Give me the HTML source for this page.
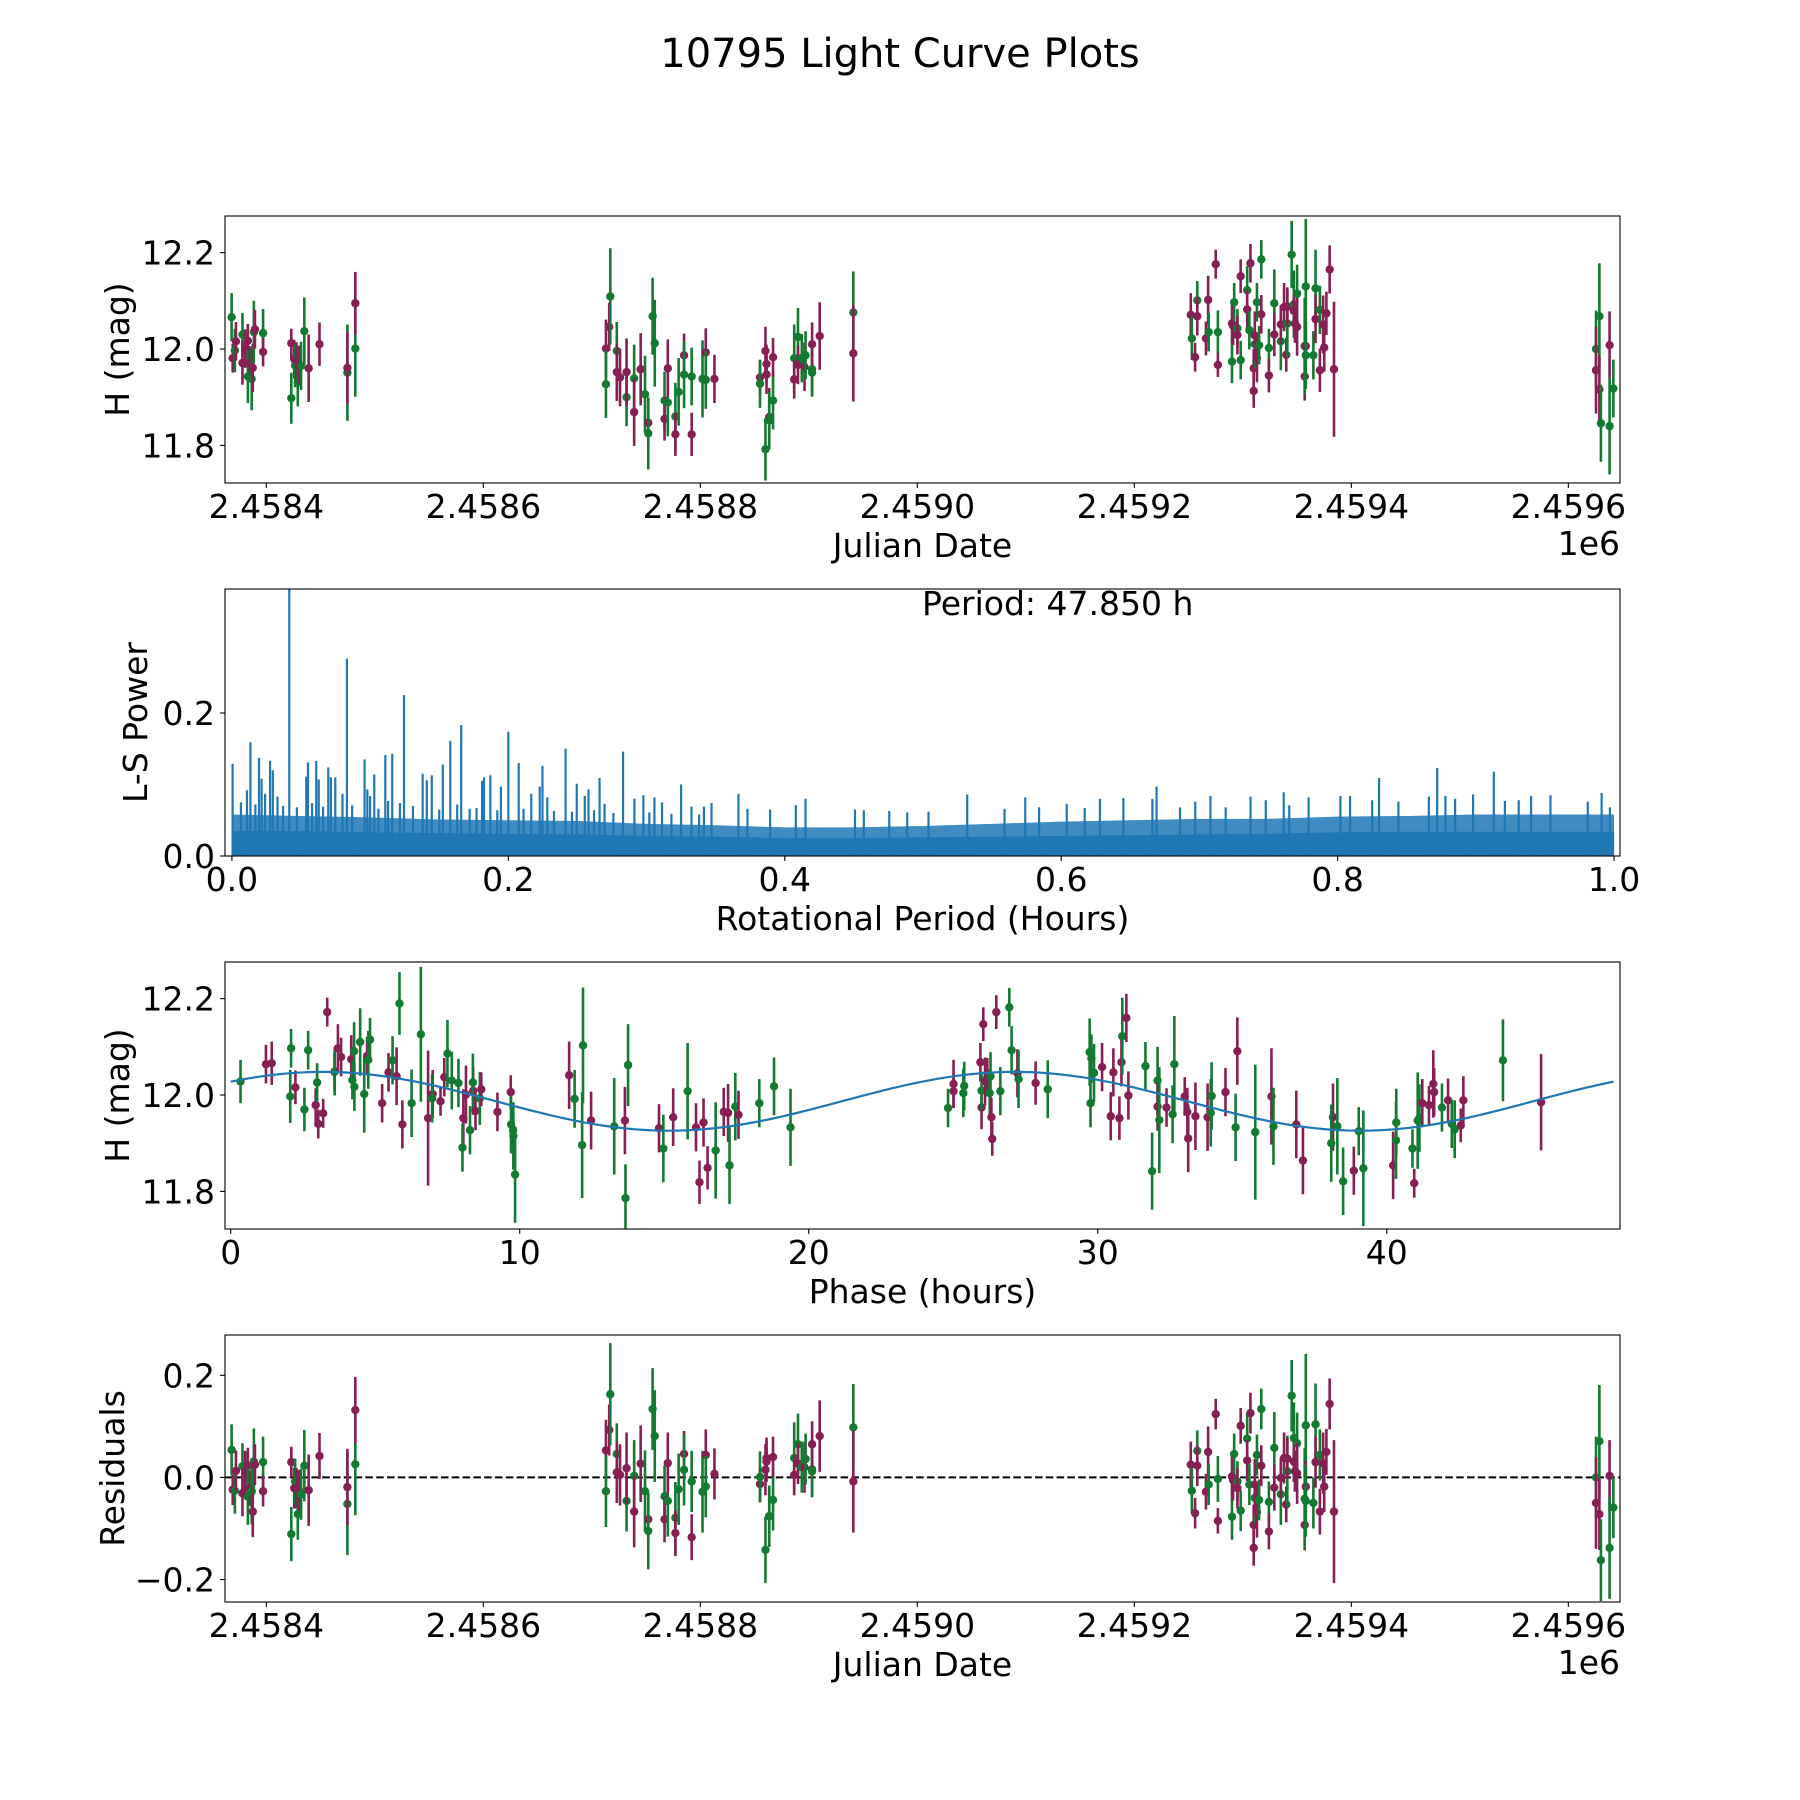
<!DOCTYPE html>
<html>
<head>
<meta charset="utf-8">
<style>
html,body{margin:0;padding:0;background:#fff;}
svg{display:block;font-family:"DejaVu Sans","Liberation Sans",sans-serif;}
</style>
</head>
<body>
<svg id="fig" width="1800" height="1800" viewBox="0 0 1800 1800" xmlns="http://www.w3.org/2000/svg">
<rect x="0" y="0" width="1800" height="1800" fill="#fff"/>
<text x="900" y="67" font-size="40" text-anchor="middle" fill="#000">10795 Light Curve Plots</text>
<defs>
<clipPath id="clip1"><rect x="225" y="216" width="1395" height="267"/></clipPath>
<clipPath id="clip2"><rect x="225" y="589" width="1395" height="267"/></clipPath>
<clipPath id="clip3"><rect x="225" y="962" width="1395" height="267"/></clipPath>
<clipPath id="clip4"><rect x="225" y="1335" width="1395" height="267"/></clipPath>
</defs>
</svg>
<script>
// ---- observation data (Julian Date, magnitude, error, band, residual) ----
const obsJD = [2458368,2458369,2458371,2458372,2458378,2458378,2458380.5,2458383,2458383,2458385,2458386.5,2458387.5,2458388.5,2458389.5,2458397,2458397,
2458423,2458423,2458425.7,2458426.5,2458427.7,2458429,2458430,2458432,2458435,2458439,2458449,
2458474.7,2458474.7,2458482,2458482,
2458713,2458713,2458716,2458717,2458723,2458723,2458726,2458732,2458732,2458739,2458739,2458745,2458749,2458752,2458752,2458756,2458758,2458767,2458767,2458770,2458770,2458777,2458777,2458780,2458785,2458785,2458792,2458792,2458802,2458805,2458805,2458813,
2458855,2458855,2458860,2458860,2458861,2458861,2458863.5,2458863.5,2458867,2458867,2458886.5,2458886.5,2458890,2458890,2458893.5,2458896,2458897,2458903,2458903,2458903,2458910,2458941,2458941,
2459252,2459253,2459256,2459258,2459258,2459266,2459268,2459268.5,2459275,2459277,2459277,2459290,2459290,2459291,2459292,2459295,2459295,2459298,2459298,2459304,2459304,2459306,2459307,2459310,2459310,2459311,2459311,2459313,2459313,2459315,2459317,2459317,2459324,2459324,2459329,2459329,2459335,2459335,2459338,2459340,2459341,2459341,2459345,2459347,2459347,2459348,2459350,2459350,2459357,2459357,2459358,2459358,2459358,2459365,2459367,2459367,2459371,2459371,2459374,2459375,2459377,2459380,2459384,
2459625.5,2459625.5,2459628.6,2459628.6,2459630,2459638,2459638,2459641.5];
const obsMag = [12.066,11.981,11.997,12.016,12.030,11.971,12.001,12.017,11.943,11.971,11.938,11.961,12.035,12.041,12.033,11.994,
12.012,11.898,11.979,11.966,11.974,11.931,11.967,11.965,12.037,11.960,12.010,
11.951,11.961,12.001,12.095,
12.001,11.927,12.046,12.109,11.996,11.952,11.941,11.900,11.952,11.939,11.869,11.958,11.906,11.847,11.825,12.068,12.012,11.893,11.855,11.889,11.960,11.860,11.823,11.911,11.987,11.947,11.943,11.823,11.938,11.993,11.936,11.938,
11.941,11.928,11.996,11.792,11.969,11.947,11.859,11.852,11.893,11.983,11.981,11.937,12.025,11.967,11.981,11.963,11.987,11.958,11.951,12.010,12.027,12.076,11.991,
12.071,12.022,11.983,12.101,12.068,12.022,12.102,12.035,12.176,12.035,11.967,11.974,12.053,12.048,12.097,12.043,12.029,11.977,12.151,12.122,12.082,12.039,12.178,11.913,11.960,12.010,12.028,12.097,11.981,12.008,12.072,12.186,12.002,11.945,12.095,12.030,12.016,12.051,12.087,11.988,12.053,12.088,12.196,12.093,12.079,12.053,12.115,12.046,11.943,12.006,12.130,12.006,11.987,11.987,12.126,12.062,12.081,11.956,12.051,12.003,12.074,12.165,11.958,
12.000,11.956,12.068,11.916,11.846,12.008,11.840,11.918];
const obsErr = [0.05,0.03,0.045,0.04,0.045,0.045,0.04,0.035,0.055,0.035,0.065,0.05,0.065,0.04,0.05,0.03,
0.03,0.053,0.04,0.045,0.04,0.05,0.04,0.05,0.07,0.07,0.045,
0.1,0.075,0.1,0.065,
0.06,0.07,0.05,0.1,0.06,0.06,0.06,0.06,0.07,0.07,0.07,0.075,0.08,0.045,0.075,0.08,0.09,0.06,0.045,0.07,0.06,0.07,0.045,0.07,0.045,0.07,0.06,0.045,0.08,0.05,0.06,0.05,
0.035,0.05,0.05,0.065,0.04,0.04,0.06,0.06,0.06,0.04,0.07,0.04,0.06,0.04,0.05,0.05,0.05,0.055,0.05,0.045,0.07,0.085,0.1,
0.045,0.045,0.03,0.04,0.04,0.035,0.05,0.04,0.03,0.045,0.025,0.045,0.04,0.04,0.04,0.04,0.04,0.04,0.035,0.05,0.04,0.04,0.04,0.035,0.04,0.05,0.05,0.04,0.05,0.04,0.04,0.04,0.04,0.035,0.07,0.045,0.06,0.04,0.05,0.035,0.07,0.04,0.07,0.07,0.04,0.04,0.06,0.06,0.05,0.1,0.14,0.05,0.07,0.05,0.08,0.05,0.05,0.045,0.06,0.05,0.045,0.05,0.14,
0.08,0.09,0.11,0.07,0.08,0.07,0.1,0.06];
const obsBand = ["g","r","g","r","g","r","r","r","g","r","g","r","g","r","g","r",
"r","g","r","g","r","g","r","g","g","r","r",
"g","r","g","r",
"r","g","r","g","g","r","r","g","r","g","r","r","g","r","g","g","g","g","r","g","r","g","r","g","r","g","g","r","g","r","g","r",
"r","g","r","g","r","r","r","g","g","r","g","r","g","r","g","r","g","g","g","r","r","g","r",
"r","g","r","g","r","r","r","g","r","g","r","g","r","r","g","g","r","g","r","g","r","g","r","r","r","g","r","g","r","g","r","g","g","r","g","r","g","r","r","r","g","r","g","g","r","r","g","r","r","g","g","r","g","g","g","r","g","r","r","r","r","r","r",
"g","r","g","r","g","r","g","g"];
const obsResid = [0.054,-0.024,-0.026,0.013,0.022,-0.031,0.012,0.023,-0.038,-0.021,-0.027,-0.067,0.031,0.025,0.030,-0.027,
0.030,-0.111,-0.021,-0.008,-0.021,-0.072,-0.025,-0.033,0.023,-0.025,0.042,
-0.052,-0.019,0.026,0.132,
0.053,-0.027,0.093,0.163,0.046,0.010,0.005,-0.046,0.018,0.003,-0.067,0.027,-0.027,-0.082,-0.105,0.134,0.081,-0.037,-0.082,-0.046,0.028,-0.079,-0.109,-0.023,0.046,0.015,-0.008,-0.117,-0.028,0.044,-0.018,0.007,
-0.013,0.001,0.015,-0.142,0.038,0.031,-0.076,-0.076,-0.044,0.040,0.038,0.005,0.065,0.027,0.020,0.020,0.036,0.016,0.012,0.065,0.081,0.098,-0.008,
0.025,-0.026,-0.070,0.052,0.023,-0.028,0.050,-0.014,0.124,-0.003,-0.085,-0.077,0.002,-0.005,0.046,-0.008,-0.021,-0.065,0.101,0.076,0.033,-0.014,0.126,-0.138,-0.093,-0.040,-0.014,0.044,-0.068,-0.044,0.023,0.134,-0.048,-0.106,0.058,-0.020,-0.033,-0.001,0.038,-0.053,0.012,0.037,0.160,0.077,0.031,0.012,0.067,0.008,-0.093,-0.042,0.102,-0.018,-0.046,-0.050,0.104,0.030,0.044,-0.067,0.028,-0.018,0.050,0.144,-0.067,
0.000,-0.050,0.071,-0.072,-0.162,0.003,-0.138,-0.059];

// ---- phased data ----
const phPhase = [0.34,1.22,1.42,2.09,2.06,2.24,2.55,2.68,2.94,2.99,3.03,3.20,3.34,3.59,3.60,3.71,3.82,4.17,4.21,4.27,4.28,4.48,4.62,4.72,4.76,4.82,5.24,5.46,5.60,5.74,5.84,5.94,6.26,6.58,6.83,6.99,6.97,7.26,7.39,7.50,7.65,7.88,8.05,8.02,8.14,8.28,8.39,8.38,8.47,8.62,8.67,9.23,9.69,9.70,9.77,9.78,9.84,11.71,11.90,12.19,12.16,12.47,13.27,13.64,13.66,13.75,14.82,14.97,15.31,15.81,16.10,16.22,16.36,16.50,16.78,17.06,17.21,17.26,17.46,17.57,18.29,18.80,19.37,
24.82,25.01,25.01,25.35,25.38,25.94,25.98,25.98,26.04,26.10,26.18,26.26,26.29,26.32,26.35,26.49,26.63,26.94,27.02,27.22,27.26,27.85,28.27,29.72,29.75,29.78,29.87,30.15,30.45,30.54,30.75,30.82,30.85,30.99,31.06,31.65,31.88,32.07,32.07,32.13,32.38,32.59,32.65,33.01,33.10,33.13,33.38,33.80,33.91,33.94,34.42,34.83,34.77,35.45,36.01,36.08,36.87,37.10,38.14,38.08,38.29,38.49,38.86,39.03,39.19,40.22,40.32,40.33,40.89,40.95,41.07,41.13,41.23,41.46,41.61,41.64,41.91,42.12,42.25,42.35,42.56,42.65,44.02,45.34];
const phMag = [12.028,12.064,12.066,12.097,11.997,12.016,11.970,12.093,11.979,12.026,11.940,11.962,12.172,12.048,12.049,12.097,12.079,12.074,12.031,12.091,12.017,12.110,12.002,12.081,12.073,12.115,11.983,12.047,12.072,12.039,12.190,11.939,11.983,12.126,11.952,12.002,11.993,11.987,12.037,12.086,12.030,12.025,11.952,11.891,12.001,11.927,12.009,12.026,11.967,11.993,12.012,11.965,12.006,11.939,11.927,11.915,11.835,12.041,11.992,12.103,11.896,11.947,11.935,11.947,11.786,12.062,11.931,11.889,11.954,12.008,11.933,11.819,11.943,11.849,11.885,11.965,11.963,11.854,11.976,11.959,11.983,12.018,11.933,
11.973,12.023,12.008,12.004,12.019,12.068,11.974,12.009,12.147,12.028,12.037,12.004,12.039,11.954,11.909,12.172,12.008,12.182,12.093,12.045,12.033,12.025,12.012,12.089,11.983,12.076,12.046,12.058,11.956,12.047,11.952,12.068,12.122,12.160,11.999,12.060,11.842,12.030,11.976,11.948,11.974,11.960,12.064,11.997,11.965,11.910,11.956,11.954,11.963,11.998,12.006,12.091,11.933,11.923,11.997,11.935,11.939,11.864,11.954,11.900,11.935,11.821,11.843,11.925,11.848,11.854,11.906,11.943,11.889,11.817,11.947,11.952,11.983,11.979,12.023,12.006,11.974,11.989,11.940,11.929,11.937,11.989,12.072,11.985];
const phErr = [0.045,0.04,0.045,0.04,0.055,0.035,0.045,0.04,0.035,0.04,0.03,0.03,0.03,0.04,0.05,0.05,0.04,0.05,0.04,0.06,0.05,0.07,0.08,0.04,0.06,0.045,0.04,0.04,0.05,0.06,0.065,0.05,0.07,0.14,0.14,0.05,0.05,0.03,0.04,0.07,0.06,0.05,0.06,0.05,0.06,0.05,0.05,0.06,0.04,0.055,0.035,0.04,0.035,0.06,0.05,0.07,0.1,0.07,0.06,0.12,0.11,0.06,0.1,0.07,0.07,0.085,0.05,0.07,0.06,0.1,0.05,0.045,0.05,0.045,0.1,0.05,0.06,0.08,0.07,0.05,0.05,0.06,0.08,
0.04,0.05,0.035,0.05,0.05,0.04,0.045,0.04,0.035,0.05,0.04,0.05,0.05,0.04,0.035,0.035,0.05,0.04,0.05,0.05,0.06,0.045,0.06,0.07,0.05,0.05,0.06,0.05,0.05,0.05,0.045,0.05,0.08,0.05,0.05,0.05,0.08,0.07,0.05,0.11,0.04,0.06,0.1,0.04,0.05,0.07,0.07,0.07,0.07,0.07,0.05,0.07,0.07,0.14,0.1,0.08,0.07,0.07,0.07,0.08,0.1,0.07,0.05,0.05,0.12,0.07,0.08,0.07,0.04,0.03,0.1,0.07,0.05,0.04,0.07,0.05,0.05,0.045,0.05,0.06,0.035,0.05,0.085,0.1];
const phBand = ["g","r","r","g","g","r","g","g","r","g","r","r","r","r","g","r","r","r","g","g","g","g","g","r","g","g","r","r","g","r","g","r","g","g","r","r","g","r","r","g","g","g","r","g","r","g","r","g","r","g","r","r","r","g","g","g","g","r","g","g","g","r","g","r","g","g","r","g","r","g","r","r","r","r","g","r","r","g","g","r","g","g","g",
"g","r","r","g","g","r","r","g","r","r","r","g","g","r","r","r","g","g","g","r","g","r","g","g","g","g","g","r","r","r","r","r","g","r","r","g","g","g","r","g","r","g","g","r","r","r","r","r","g","g","r","r","g","g","r","g","r","r","r","g","g","g","r","g","g","r","g","g","g","r","g","g","r","r","r","r","g","r","g","g","r","r","g","r"];
// fitted model: [mean mag, amplitude, phase of maximum (h), period of sinusoid (h)]
const modelParams = [11.987, 0.061, 3.2, 23.925];
const phaseRange = [0, 47.85];

// ---- periodogram data ----
const envPos  = [0,0.05,0.10,0.15,0.20,0.25,0.30,0.35,0.40,0.45,0.50,0.55,0.60,0.65,0.70,0.75,0.80,0.85,0.90,0.95,1.00];
const envTop  = [0.058,0.056,0.054,0.051,0.050,0.049,0.045,0.043,0.040,0.040,0.042,0.045,0.048,0.050,0.052,0.052,0.055,0.056,0.058,0.058,0.058];
const envBase = [0.035,0.035,0.033,0.032,0.031,0.030,0.028,0.027,0.025,0.025,0.026,0.027,0.028,0.029,0.030,0.031,0.033,0.034,0.034,0.034,0.034];
const peakPos = [0.0005,0.0109,0.0134,0.0196,0.0215,0.024,0.0276,0.0296,0.033,0.0415,0.0538,0.055,0.061,0.0628,0.0697,0.0716,0.0748,0.080,0.0832,0.096,0.098,0.100,0.103,0.111,0.113,0.116,0.1216,0.1245,0.138,0.141,0.1446,0.1526,0.158,0.163,0.1659,0.172,0.181,0.1824,0.187,0.1946,0.200,0.2075,0.2166,0.2227,0.2247,0.2282,0.2414,0.2495,0.2553,0.258,0.266,0.2696,0.283,0.2912,0.2977,0.3057,0.3112,0.325,0.3325,0.3415,0.347,0.3665,0.373,0.3894,0.408,0.415,0.4508,0.4572,0.4756,0.4886,
0.504,0.532,0.559,0.574,0.584,0.604,0.617,0.628,0.645,0.666,0.669,0.686,0.697,0.708,0.719,0.737,0.748,0.761,0.765,0.779,0.802,0.809,0.825,0.830,0.844,0.866,0.872,0.878,0.885,0.898,0.913,0.921,0.931,0.940,0.954,0.981,0.991,0.997,
0.0065,0.017,0.037,0.047,0.058,0.066,0.087,0.106,0.131,0.150,0.177,0.192,0.211,0.233,0.246,0.262,0.276,0.302,0.318,0.338];
const peakPow = [0.129,0.092,0.159,0.137,0.108,0.087,0.133,0.120,0.083,0.400,0.111,0.131,0.133,0.107,0.124,0.110,0.110,0.087,0.276,0.135,0.093,0.084,0.114,0.141,0.077,0.143,0.074,0.225,0.115,0.106,0.113,0.128,0.161,0.072,0.183,0.066,0.105,0.110,0.113,0.097,0.174,0.130,0.087,0.097,0.126,0.082,0.150,0.101,0.084,0.093,0.109,0.073,0.146,0.080,0.085,0.082,0.075,0.100,0.069,0.069,0.074,0.087,0.066,0.065,0.071,0.080,0.065,0.064,0.063,0.061,
0.062,0.086,0.066,0.082,0.068,0.073,0.067,0.080,0.081,0.080,0.097,0.068,0.076,0.084,0.068,0.083,0.078,0.089,0.071,0.082,0.084,0.084,0.078,0.109,0.076,0.083,0.123,0.084,0.080,0.086,0.118,0.077,0.078,0.084,0.085,0.076,0.088,0.068,
0.075,0.072,0.070,0.068,0.074,0.069,0.071,0.066,0.070,0.065,0.067,0.064,0.066,0.063,0.062,0.064,0.060,0.061,0.059,0.058];
const bestPeriod = 47.850;

// ---- tick labels ----
const jdTicks = [2458400,2458600,2458800,2459000,2459200,2459400,2459600];
const jdTickLabels = ["2.4584","2.4586","2.4588","2.4590","2.4592","2.4594","2.4596"];
const magTicks = [12.2,12.0,11.8];
const magTickLabels = ["12.2","12.0","11.8"];
const powTicks = [0.0,0.2];
const powTickLabels = ["0.0","0.2"];
const perTicks = [0,0.2,0.4,0.6,0.8,1.0];
const perTickLabels = ["0.0","0.2","0.4","0.6","0.8","1.0"];
const phTicks = [0,10,20,30,40];
const phTickLabels = ["0","10","20","30","40"];
const resTicks = [0.2,0.0,-0.2];
const resTickLabels = ["0.2","0.0","\u22120.2"];

// ---- layout ----
const NS = "http://www.w3.org/2000/svg";
const svg = document.getElementById("fig");
const L = 225, R = 1620, W = R - L, H = 267;
const tops = [216, 589, 962, 1335];
const GREEN = "#137a32", MAROON = "#871f55", BLUE = "#1f77b4";
const FS = 33;

function mk(tag, attrs, parent) {
  const e = document.createElementNS(NS, tag);
  for (const k in attrs) e.setAttribute(k, attrs[k]);
  (parent || svg).appendChild(e);
  return e;
}
function linScale(d0, d1, r0, r1) { return v => r0 + (v - d0) / (d1 - d0) * (r1 - r0); }

const xJD = linScale(2458361.9, 2459647.6, L, R);
const yMag1 = linScale(12.276, 11.722, tops[0], tops[0] + H);
const xPer = linScale(-0.005, 1.0043, L, R);
const yPow = linScale(0, 0.3734, tops[1] + H, tops[1]);
const xPh = linScale(-0.197, 48.07, L, R);
const yMag3 = linScale(12.276, 11.722, tops[2], tops[2] + H);
const yRes = linScale(0.279, -0.244, tops[3], tops[3] + H);

function drawAxes(name, top, xs, xt, xl, ys, yt, yl, xlabel, ylabel, ylabelX, offsetText) {
  const g = mk("g", {});
  
  
  const fr = mk("rect", {x: L, y: top, width: W, height: H, fill: "none", stroke: "#000", "stroke-width": 1.1}, g);
  
  
  const bot = top + H;
  xt.forEach((v, i) => {
    const x = xs(v);
    const t = mk("line", {x1: x, x2: x, y1: bot, y2: bot + 4.9, stroke: "#000", "stroke-width": 1.1}, g);
    
    
    const tl = mk("text", {x: x, y: bot + 35, "font-size": FS, "text-anchor": "middle"}, g);
    
    
    tl.textContent = xl[i];
  });
  yt.forEach((v, i) => {
    const y = ys(v);
    const t = mk("line", {x1: L - 4.9, x2: L, y1: y, y2: y, stroke: "#000", "stroke-width": 1.1}, g);
    
    
    const tl = mk("text", {x: L - 10, y: y + 12, "font-size": FS, "text-anchor": "end"}, g);
    
    
    tl.textContent = yl[i];
  });
  const xa = mk("text", {x: (L + R) / 2, y: bot + 74, "font-size": FS, "text-anchor": "middle"}, g);
  
  
  xa.textContent = xlabel;
  const cy = top + H / 2;
  const ya = mk("text", {x: ylabelX, y: cy, "font-size": FS, "text-anchor": "middle", transform: "rotate(-90 " + ylabelX + " " + cy + ")"}, g);
  
  
  ya.textContent = ylabel;
  if (offsetText) {
    const ot = mk("text", {x: R, y: bot + 72, "font-size": FS, "text-anchor": "end"}, g);
    
    
    ot.textContent = offsetText;
  }
}

function drawPoints(name, clip, xs, ys, xArr, yArr, eArr, bArr) {
  const g = mk("g", {"clip-path": "url(#" + clip + ")"});
  
  
  for (let i = 0; i < xArr.length; i++) {
    const c = bArr[i] === "g" ? GREEN : MAROON;
    const x = xs(xArr[i]);
    const eb = mk("line", {x1: x, x2: x, y1: ys(yArr[i] - eArr[i]), y2: ys(yArr[i] + eArr[i]), stroke: c, "stroke-width": 2.6}, g);
    
    
    const m = mk("circle", {cx: x, cy: ys(yArr[i]), r: 4.2, fill: c}, g);
    
    
  }
}

// Panel 1: light curve
drawPoints("light-curve", "clip1", xJD, yMag1, obsJD, obsMag, obsErr, obsBand);
drawAxes("light-curve", tops[0], xJD, jdTicks, jdTickLabels, yMag1, magTicks, magTickLabels, "Julian Date", "H (mag)", 129, "1e6");

// Panel 2: periodogram
(function () {
  const g = mk("g", {"clip-path": "url(#clip2)"});
  
  
  const base = yPow(0);
  let dTop = "M" + xPer(envPos[0]) + "," + base;
  envPos.forEach((p, i) => { dTop += " L" + xPer(p) + "," + yPow(envTop[i]); });
  dTop += " L" + xPer(envPos[envPos.length - 1]) + "," + base + " Z";
  const at = mk("path", {d: dTop, fill: BLUE, "fill-opacity": 0.85}, g);
  
  
  let dBase = "M" + xPer(envPos[0]) + "," + base;
  envPos.forEach((p, i) => { dBase += " L" + xPer(p) + "," + yPow(envBase[i]); });
  dBase += " L" + xPer(envPos[envPos.length - 1]) + "," + base + " Z";
  const ab = mk("path", {d: dBase, fill: BLUE}, g);
  
  
  peakPos.forEach((p, i) => {
    const x = xPer(p);
    const pk = mk("line", {x1: x, x2: x, y1: base, y2: yPow(peakPow[i]), stroke: BLUE, "stroke-width": 2.2}, g);
    
    
  });
})();
drawAxes("periodogram", tops[1], xPer, perTicks, perTickLabels, yPow, powTicks, powTickLabels, "Rotational Period (Hours)", "L-S Power", 147, null);
const perText = mk("text", {x: 922, y: 615, "font-size": FS, "text-anchor": "start"});


perText.textContent = "Period: " + bestPeriod.toFixed(3) + " h";

// Panel 3: phased light curve
drawPoints("phased-curve", "clip3", xPh, yMag3, phPhase, phMag, phErr, phBand);
(function () {
  let d = "";
  const n = 300;
  for (let k = 0; k <= n; k++) {
    const ph = phaseRange[0] + (phaseRange[1] - phaseRange[0]) * k / n;
    const m = modelParams[0] + modelParams[1] * Math.cos(2 * Math.PI * (ph - modelParams[2]) / modelParams[3]);
    d += (k ? " L" : "M") + xPh(ph).toFixed(2) + "," + yMag3(m).toFixed(2);
  }
  const ml = mk("path", {d: d, fill: "none", stroke: BLUE, "stroke-width": 2.2, "clip-path": "url(#clip3)"});
  
  
})();
drawAxes("phased-curve", tops[2], xPh, phTicks, phTickLabels, yMag3, magTicks, magTickLabels, "Phase (hours)", "H (mag)", 129, null);

// Panel 4: residuals
(function () {
  const z = mk("line", {x1: L, x2: R, y1: yRes(0), y2: yRes(0), stroke: "#000", "stroke-width": 2, "stroke-dasharray": "7.5,3.3"});
  
  
})();
drawPoints("residuals", "clip4", xJD, yRes, obsJD, obsResid, obsErr, obsBand);
drawAxes("residuals", tops[3], xJD, jdTicks, jdTickLabels, yRes, resTicks, resTickLabels, "Julian Date", "Residuals", 124, "1e6");
</script>
</body>
</html>
